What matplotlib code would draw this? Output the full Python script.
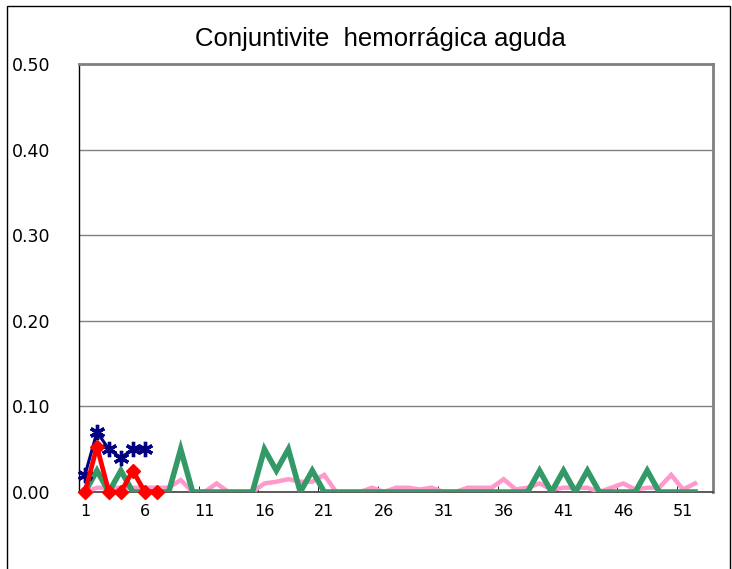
import matplotlib
matplotlib.use("Agg")
import matplotlib.pyplot as plt
from matplotlib.patches import Rectangle
import numpy as np

# weekly rates, weeks 1..52
weeks = np.arange(1, 53)

pink = [0, 0.005, 0.005, 0.005, 0.005, 0.005, 0.005, 0.005, 0.014, 0,
        0, 0.01, 0, 0, 0, 0.01, 0.012, 0.015, 0.012, 0.012,
        0.02, 0, 0, 0, 0.005, 0, 0.005, 0.005, 0.003, 0.005,
        0, 0, 0.005, 0.005, 0.005, 0.015, 0.003, 0.005, 0.01, 0.003,
        0.005, 0.005, 0.005, 0, 0.005, 0.01, 0.003, 0.005, 0.005, 0.02,
        0.003, 0.01]

green = [0, 0.025, 0, 0.025, 0, 0, 0, 0, 0.05, 0,
         0, 0, 0, 0, 0, 0.05, 0.025, 0.05, 0, 0.025,
         0, 0, 0, 0, 0, 0, 0, 0, 0, 0,
         0, 0, 0, 0, 0, 0, 0, 0, 0.025, 0,
         0.025, 0, 0.025, 0, 0, 0, 0, 0.025, 0, 0,
         0, 0]

blue_weeks = [1, 2, 3, 4, 5, 6]
blue = [0.02, 0.07, 0.05, 0.04, 0.05, 0.05]

red_weeks = [1, 2, 3, 4, 5, 6, 7]
red = [0, 0.053, 0, 0, 0.025, 0, 0]

y_ticks = [0.0, 0.1, 0.2, 0.3, 0.4, 0.5]
x_labels = [1, 6, 11, 16, 21, 26, 31, 36, 41, 46, 51]

W, H = 732, 569
fig = plt.figure(figsize=(W / 100, H / 100), dpi=100)
ax = fig.add_axes([79 / W, 1 - 492 / H, (713 - 79) / W, (492 - 64) / H])

ax.plot(weeks, pink, color="#FF99CC", lw=3.2, zorder=3, solid_joinstyle="miter")
ax.plot(weeks, green, color="#339966", lw=4.0, zorder=4, solid_joinstyle="miter")
ax.plot(blue_weeks, blue, color="#000080", lw=2.2, marker=(6, 2, 0),
        markersize=11, markeredgewidth=2.4, zorder=5, clip_on=False)
ax.plot(red_weeks, red, color="#FF0000", lw=3.4, marker="D", markersize=7.5,
        zorder=6, clip_on=False)

ax.set_xlim(0.5, 53.5)
ax.set_ylim(0, 0.5)
ax.set_yticks(y_ticks)
ax.set_yticklabels([f"{v:.2f}" for v in y_ticks])
ax.set_xticks(x_labels)
ax.set_xticklabels([str(v) for v in x_labels])
ax.set_xticks(np.arange(0.5, 51, 5), minor=True)
ax.tick_params(axis="x", which="major", length=0, pad=9, labelsize=11.5)
ax.tick_params(axis="x", which="minor", length=4, direction="in", color="black")
ax.tick_params(axis="y", length=0, pad=48, labelsize=12.5)
for lab in ax.get_yticklabels():
    lab.set_horizontalalignment("left")
for lab in ax.get_xticklabels() + ax.get_yticklabels():
    lab.set_fontfamily("DejaVu Sans")

ax.grid(axis="y", color="#808080", lw=1.0)
ax.set_axisbelow(True)
ax.spines["top"].set_color("#808080")
ax.spines["top"].set_linewidth(2)
ax.spines["right"].set_color("#808080")
ax.spines["right"].set_linewidth(2)
ax.spines["left"].set_color("black")
ax.spines["left"].set_linewidth(1)
ax.spines["bottom"].set_color("#404040")
ax.spines["bottom"].set_linewidth(1.2)

fig.text(380 / W, 1 - 39 / H, "Conjuntivite  hemorrágica aguda",
         ha="center", va="center", fontsize=18.5, family="Liberation Sans")

fig.patches.append(Rectangle((7 / W, -0.01), 723 / W, 1.01 - 6 / H,
                             transform=fig.transFigure, fill=False,
                             edgecolor="black", lw=1))

fig.savefig("out.png", dpi=100)
